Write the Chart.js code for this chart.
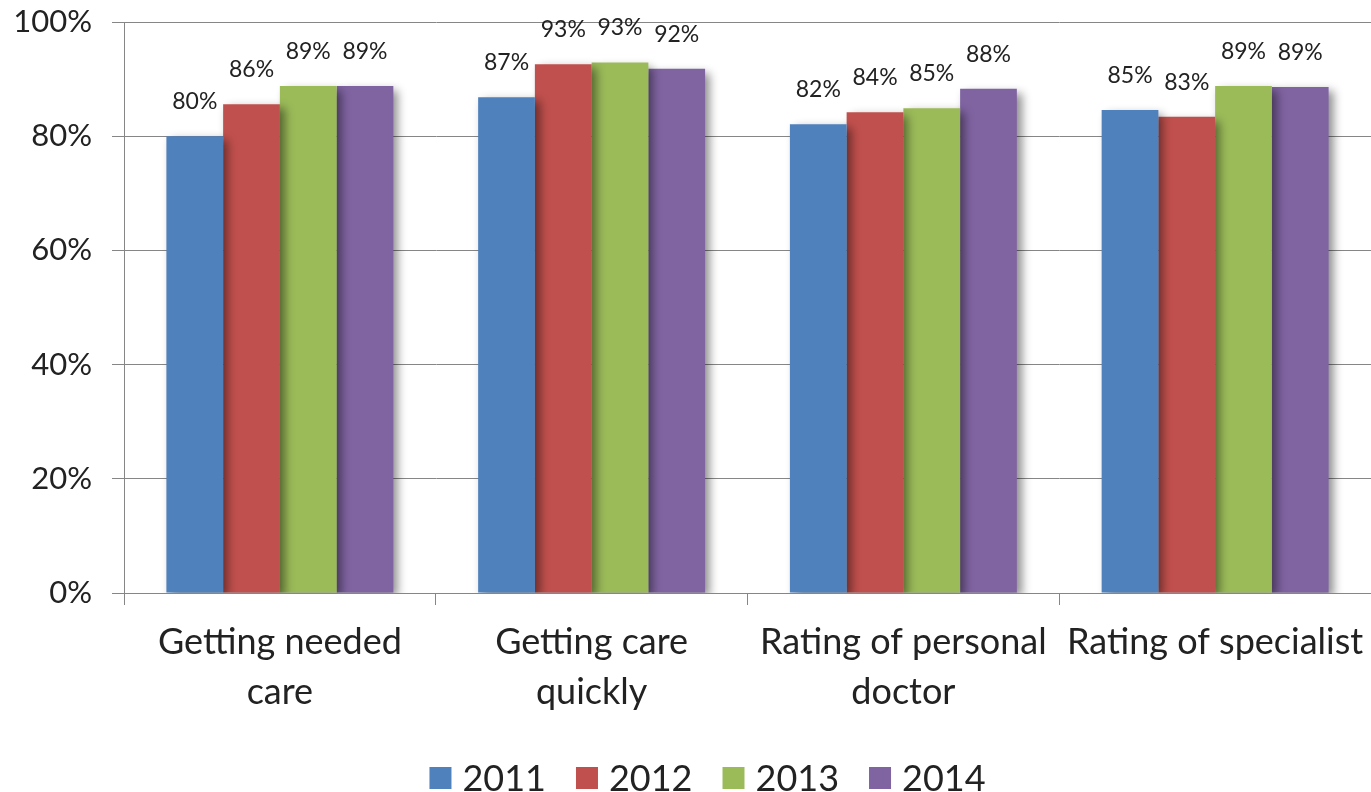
<!DOCTYPE html>
<html>
<head>
<meta charset="utf-8">
<script src="https://cdn.jsdelivr.net/npm/chart.js@4/dist/chart.umd.min.js"></script>
<style>
  html, body { margin: 0; padding: 0; background: #fff; }
  #wrap { width: 1371px; height: 792px; }
</style>
</head>
<body>
<div id="wrap"><canvas id="chart"></canvas></div>
<script>
const categories = [
    ['Getting needed', 'care'],
    ['Getting care', 'quickly'],
    ['Rating of personal', 'doctor'],
    'Rating of specialist'
];
const years = ['2011', '2012', '2013', '2014'];
const values2011 = [80.0, 86.8, 82.1, 84.6];
const values2012 = [85.6, 92.6, 84.2, 83.4];
const values2013 = [88.8, 92.9, 84.9, 88.8];
const values2014 = [88.8, 91.8, 88.3, 88.6];
const colors = ['#4F81BD', '#C0504D', '#9BBB59', '#8064A2'];
const yTicks = [0, 20, 40, 60, 80, 100];

const FONT = 'Lato';
const TEXT = '#222';

// soft drop shadow behind the bars, like the office chart
const barShadow = {
    id: 'barShadow',
    beforeDatasetsDraw(chart) {
        const ctx = chart.ctx;
        ctx.save();
        ctx.shadowColor = 'rgba(0,0,0,0.45)';
        ctx.shadowBlur = 9;
        ctx.shadowOffsetX = 5;
        ctx.shadowOffsetY = 4;
    },
    afterDatasetsDraw(chart) {
        chart.ctx.restore();
    }
};

// value labels above each bar
const valueLabels = {
    id: 'valueLabels',
    afterDatasetsDraw(chart) {
        const ctx = chart.ctx;
        ctx.save();
        ctx.shadowColor = 'transparent';
        ctx.font = '23px ' + FONT;
        ctx.fillStyle = TEXT;
        ctx.textAlign = 'center';
        ctx.textBaseline = 'bottom';
        chart.data.datasets.forEach((ds, i) => {
            const meta = chart.getDatasetMeta(i);
            meta.data.forEach((bar, j) => {
                ctx.fillText(Math.round(ds.data[j]) + '%', bar.x, bar.y - 23);
            });
        });
        ctx.restore();
    }
};

// legend row under the axis, a bit right of centre like the original
const bottomLegend = {
    id: 'bottomLegend',
    afterDraw(chart) {
        const ctx = chart.ctx;
        const box = 22, gap = 11, spacing = 30;
        ctx.save();
        ctx.font = '36px ' + FONT;
        ctx.textBaseline = 'middle';
        ctx.textAlign = 'left';
        const items = chart.data.datasets.map(ds => ({
            text: ds.label,
            color: ds.backgroundColor,
            w: box + gap + ctx.measureText(ds.label).width
        }));
        const total = items.reduce((s, it) => s + it.w, 0) + spacing * (items.length - 1);
        let x = chart.width / 2 + 22 - total / 2;
        const y = chart.height - 14;
        items.forEach(it => {
            ctx.fillStyle = it.color;
            ctx.fillRect(x, y - box / 2, box, box);
            ctx.fillStyle = TEXT;
            ctx.fillText(it.text, x + box + gap, y + 1);
            x += it.w + spacing;
        });
        ctx.restore();
    }
};

const seriesValues = [values2011, values2012, values2013, values2014];

new Chart(document.getElementById('chart'), {
    type: 'bar',
    data: {
        labels: categories,
        datasets: years.map((y, i) => ({
            label: y,
            data: seriesValues[i],
            backgroundColor: colors[i],
            borderWidth: 0,
            barPercentage: 1.0,
            categoryPercentage: 0.728
        }))
    },
    options: {
        responsive: true,
        maintainAspectRatio: false,
        animation: false,
        layout: { padding: { top: 22, right: 0, left: 0, bottom: 61 } },
        plugins: {
            tooltip: { enabled: false },
            legend: { display: false }
        },
        scales: {
            x: {
                offset: true,
                grid: {
                    display: true,
                    drawOnChartArea: false,
                    drawTicks: true,
                    tickLength: 12,
                    color: '#868686',
                    offset: true
                },
                border: { color: '#868686' },
                ticks: {
                    font: { family: FONT, size: 36, lineHeight: 1.38 },
                    color: TEXT,
                    padding: 13,
                    maxRotation: 0,
                    autoSkip: false
                },
                afterFit(scale) {
                    scale.height = 138;
                    scale.paddingLeft = 0;
                    scale.paddingRight = 0;
                }
            },
            y: {
                min: 0,
                max: 100,
                afterBuildTicks(scale) {
                    scale.ticks = yTicks.map(v => ({ value: v }));
                },
                grid: {
                    color: '#868686',
                    tickLength: 12
                },
                border: { color: '#868686' },
                ticks: {
                    font: { family: FONT, size: 31 },
                    color: TEXT,
                    padding: 20,
                    callback: v => v + '%'
                },
                afterFit(scale) {
                    scale.width = 124;
                    scale.paddingTop = 0;
                    scale.paddingBottom = 0;
                }
            }
        }
    },
    plugins: [barShadow, valueLabels, bottomLegend]
});
</script>
</body>
</html>
